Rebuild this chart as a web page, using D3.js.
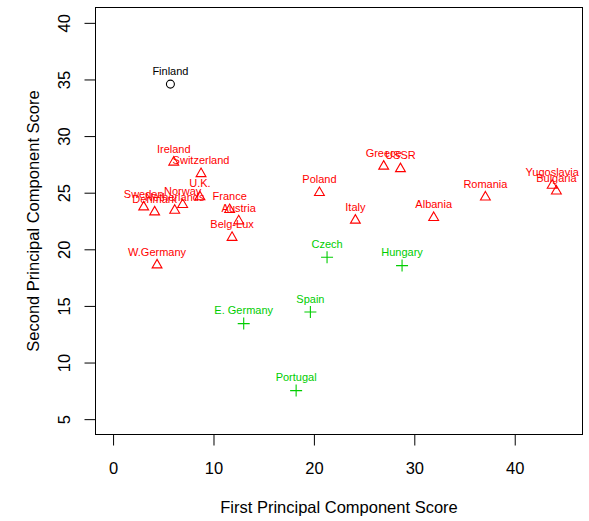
<!DOCTYPE html>
<html>
<head>
<meta charset="utf-8">
<script src="https://cdn.jsdelivr.net/npm/d3@7"></script>
<style>
  body { margin: 0; background: #fff; }
  svg { font-family: "Liberation Sans", Arial, Helvetica, sans-serif; }
</style>
</head>
<body>
<svg id="chart" width="589" height="521"></svg>
<script>
// country scores
var countries = ["Finland", "Sweden", "Denmark", "Netherlands", "Norway", "U.K.", "Ireland",
    "Switzerland", "France", "Austria", "Belg-Lux", "W.Germany", "Poland", "Greece", "USSR",
    "Italy", "Romania", "Albania", "Yugoslavia", "Bulgaria",
    "Czech", "Hungary", "Spain", "E. Germany", "Portugal"];
var firstScore = [5.71, 3.05, 4.14, 6.14, 6.93, 8.65, 6.04,
    8.76, 11.61, 12.51, 11.85, 4.38, 20.55, 26.95, 28.62,
    24.13, 37.08, 31.93, 43.73, 44.15,
    21.31, 28.78, 19.65, 13.01, 18.23];
var secondScore = [34.59, 23.73, 23.29, 23.44, 23.94, 24.63, 27.69,
    26.67, 23.50, 22.50, 21.04, 18.61, 25.00, 27.33, 27.11,
    22.56, 24.61, 22.80, 25.64, 25.14,
    19.30, 18.56, 14.46, 13.44, 7.52];
// 0 = circle (black), 1 = triangle (red), 2 = plus (green)
var group = [0, 1, 1, 1, 1, 1, 1,
    1, 1, 1, 1, 1, 1, 1, 1,
    1, 1, 1, 1, 1,
    2, 2, 2, 2, 2];
var xTicks = [0, 10, 20, 30, 40];
var yTicks = [5, 10, 15, 20, 25, 30, 35, 40];
var groupColors = ["#000000", "#FF0000", "#00CD00"];

var svg = d3.select("#chart");
var plotLeft = 95, plotRight = 583, plotTop = 7, plotBottom = 435;

var x = d3.scaleLinear().domain([-1.8, 46.8]).range([plotLeft, plotRight]);
var y = d3.scaleLinear().domain([3.6, 41.4]).range([plotBottom, plotTop]);

// plot frame
svg.append("rect")
    .attr("x", plotLeft + 0.5).attr("y", plotTop + 0.5)
    .attr("width", plotRight - plotLeft - 1).attr("height", plotBottom - plotTop - 1)
    .attr("fill", "none").attr("stroke", "#000").attr("stroke-width", 1);

var xAxis = svg.append("g")
    .attr("transform", "translate(0," + (plotBottom - 0.5) + ")")
    .call(d3.axisBottom(x).tickValues(xTicks).tickSize(11).tickFormat(d3.format("d")));
xAxis.select(".domain").remove();
xAxis.selectAll("line").attr("stroke", "#000");
xAxis.selectAll("text")
    .attr("y", 39).attr("dy", 0)
    .attr("fill", "#000").style("font-size", "16.5px");

var yAxis = svg.append("g")
    .attr("transform", "translate(" + (plotLeft + 0.5) + ",0)")
    .call(d3.axisLeft(y).tickValues(yTicks).tickSize(11).tickFormat(d3.format("d")));
yAxis.select(".domain").remove();
yAxis.selectAll("line").attr("stroke", "#000");
yAxis.selectAll("text")
    .attr("transform", "rotate(-90)")
    .attr("x", 0).attr("y", -26).attr("dy", 0)
    .attr("text-anchor", "middle")
    .attr("fill", "#000").style("font-size", "16.5px");

svg.append("text")
    .attr("x", (plotLeft + plotRight) / 2).attr("y", 513)
    .attr("text-anchor", "middle")
    .style("font-size", "16.5px")
    .text("First Principal Component Score");

svg.append("text")
    .attr("transform", "translate(39," + ((plotTop + plotBottom) / 2) + ") rotate(-90)")
    .attr("text-anchor", "middle")
    .style("font-size", "16.5px")
    .text("Second Principal Component Score");

var shapes = [
    d3.symbol().type(d3.symbolCircle).size(50),
    d3.symbol().type(d3.symbolTriangle).size(42)
];

var pts = svg.append("g").selectAll("g")
    .data(countries.map(function (c, i) { return i; }))
    .enter().append("g")
    .attr("transform", function (i) { return "translate(" + x(firstScore[i]) + "," + y(secondScore[i]) + ")"; });

pts.each(function (i) {
    var g = d3.select(this);
    var col = groupColors[group[i]];
    if (group[i] === 2) {
        g.append("path")
            .attr("d", "M-6,0H6M0,-6V6")
            .attr("stroke", col).attr("stroke-width", 1.1).attr("fill", "none");
    } else {
        g.append("path")
            .attr("d", shapes[group[i]]())
            .attr("stroke", col).attr("stroke-width", 1.1).attr("fill", "none");
    }
    g.append("text")
        .attr("y", -9.5)
        .attr("text-anchor", "middle")
        .attr("fill", col)
        .style("font-size", "11px")
        .text(countries[i]);
});
</script>
</body>
</html>
